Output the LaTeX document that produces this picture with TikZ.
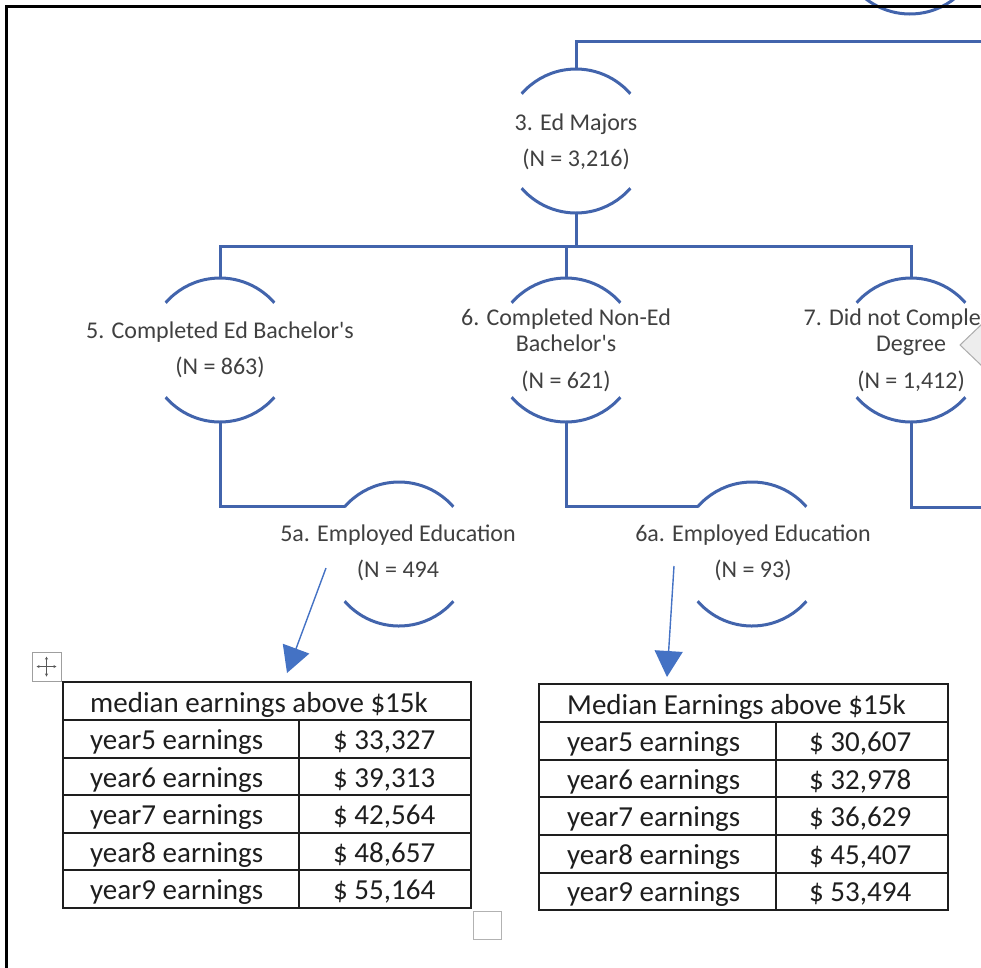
\documentclass[tikz,border=0pt]{standalone}
\usepackage{fontspec}
\setmainfont{Carlito}
\usetikzlibrary{arrows.meta}
\definecolor{treeblue}{RGB}{66,100,172}
\definecolor{ptrblue}{RGB}{68,114,196}
\definecolor{labelgray}{RGB}{64,64,64}
\definecolor{inkgray}{RGB}{30,30,30}
\begin{document}
\begin{tikzpicture}[x=1pt,y=-1pt,
  ring/.style={circle, minimum size=144pt, inner sep=0pt, outer sep=0pt},
  arcline/.style={draw=treeblue, line width=3pt},
  link/.style={draw=treeblue, line width=3pt},
  lbl/.style={align=center, text=labelgray, font=\fontsize{24}{26}\selectfont, inner sep=0pt},
  pointer/.style={draw=ptrblue, line width=1.4pt, -{Triangle[length=26pt,width=28pt]}},
  tablebox/.style={draw=inkgray, line width=1.8pt, inner sep=0pt, outer sep=0pt, anchor=north west},
  rule/.style={draw=inkgray, line width=1.8pt},
  cell/.style={anchor=base west, text=inkgray, font=\fontsize{29}{34}\selectfont, inner sep=0pt},
]
\useasboundingbox (0,0) rectangle (981,967);
\clip (0,0) rectangle (981,967);

% ---- tree nodes (open circles) ----
\node[ring] (n1)  at (910,-58) {};
\node[ring] (n3)  at (576,141) {};
\node[ring] (n5)  at (220,350) {};
\node[ring] (n6)  at (566,350) {};
\node[ring] (n7)  at (911,350) {};
\node[ring] (n5a) at (399,554) {};
\node[ring] (n6a) at (752,554) {};

\foreach \n in {n1,n3,n5,n6,n7,n5a,n6a}{
  \draw[arcline] (\n.41) arc[start angle=41, end angle=139, radius=72pt];
  \draw[arcline] (\n.221) arc[start angle=221, end angle=319, radius=72pt];
}

% ---- labels ----
\node[lbl] (n3t)  at (576,142) {3. Ed Majors\\[10pt](N = 3,216)};
\node[lbl] (n5t)  at (220,350) {5. Completed Ed Bachelor\textquotesingle s\\[10pt](N = 863)};
\node[lbl] (n6t)  at (566,350) {6. Completed Non-Ed\\Bachelor\textquotesingle s\\[11pt](N = 621)};
\node[lbl] (n7t)  at (911,350) {7. Did not Complete\hspace*{18pt}\\Degree\\[11pt](N = 1,412)};
\node[lbl] (n5at) at (398,553) {5a. Employed Education\\[10pt](N = 494};
\node[lbl] (n6at) at (753,553) {6a. Employed Education\\[10pt](N = 93)};

% ---- connectors ----
\coordinate (topbus) at (981,41);
\coordinate (midbus) at (576,246);
\coordinate (rightbus) at (981,507);
\draw[link] (n3.north) |- (topbus);
\draw[link] (n3.south) -- (midbus);
\draw[link] (n5.north) |- (midbus);
\draw[link] (n7.north) |- (midbus);
\draw[link] (n6.north) -- (n6.north |- midbus);
\draw[link] (n5.south) |- (n5a.139);
\draw[link] (n6.south) |- (n6a.139);
\draw[link] (n7.south) |- (rightbus);

% ---- pointers to the tables ----
\coordinate (p5) at (326,568);
\coordinate (tip5) at (287,673);
\coordinate (p6) at (674,566);
\coordinate (tip6) at (667,677);
\draw[pointer] (p5) -- (tip5);
\draw[pointer] (p6) -- (tip6);

% ---- table 1 ----
\node[tablebox, minimum width=408pt, minimum height=226pt] (tab1) at (63,682) {};
\foreach \yy in {720,758,795,833,870}{ \draw[rule] (63,\yy) -- (471,\yy); }
\draw[rule] (299,720) -- (299,908);
\node[cell] (t1h) at (90,712) {median earnings above \$15k};
\foreach \yy/\yr/\val [count=\i] in {{749/5/33,327}, {787/6/39,313}, {824/7/42,564}, {862/8/48,657}, {899/9/55,164}}{
  \node[cell] (t1l\i) at (90,\yy) {year\yr{} earnings};
  \node[cell] (t1v\i) at (333,\yy) {\$ \val};
}

% ---- table 2 ----
\node[tablebox, minimum width=409pt, minimum height=226pt] (tab2) at (539,684) {};
\foreach \yy in {722,760,797,835,873}{ \draw[rule] (539,\yy) -- (948,\yy); }
\draw[rule] (776,722) -- (776,910);
\node[cell] (t2h) at (567,714) {Median Earnings above \$15k};
\foreach \yy/\yr/\val [count=\i] in {{751/5/30,607}, {789/6/32,978}, {826/7/36,629}, {864/8/45,407}, {901/9/53,494}}{
  \node[cell] (t2l\i) at (567,\yy) {year\yr{} earnings};
  \node[cell] (t2v\i) at (809,\yy) {\$ \val};
}

% ---- table handles ----
\node[draw=gray!75, line width=1pt, minimum size=29pt, inner sep=0pt, outer sep=0pt, anchor=north west] (grip) at (32,652) {};
\draw[gray!70!black, line width=0.8pt, {Stealth[length=3pt,width=3pt]}-{Stealth[length=3pt,width=3pt]}]
  ([xshift=-10pt]grip.center) -- ([xshift=10pt]grip.center);
\draw[gray!70!black, line width=0.8pt, {Stealth[length=3pt,width=3pt]}-{Stealth[length=3pt,width=3pt]}]
  ([yshift=-10pt]grip.center) -- ([yshift=10pt]grip.center);
\node[draw=gray!60, line width=1pt, minimum size=28pt, inner sep=0pt, outer sep=0pt, anchor=north west] (sizer) at (473,911) {};

% ---- comment marker at the right edge ----
\draw[draw=gray!65, fill=gray!14, line width=1pt] (983,323) -- (960,345) -- (983,367);

% ---- page frame ----
\draw[black, line width=3pt] (6,970) -- (6,6) -- (985,6);
\end{tikzpicture}
\end{document}
